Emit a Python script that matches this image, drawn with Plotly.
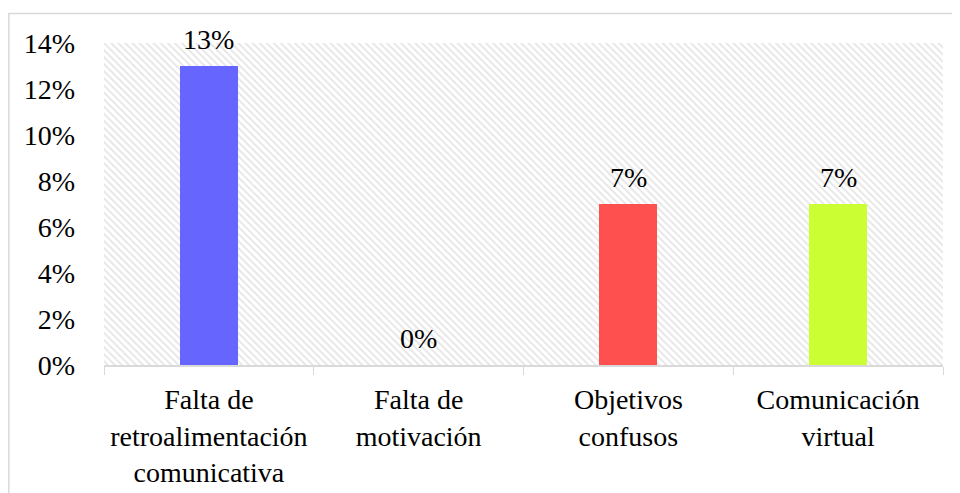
import plotly.graph_objects as go

categories = [
    "Falta de<br>retroalimentación<br>comunicativa",
    "Falta de<br>motivación",
    "Objetivos<br>confusos",
    "Comunicación<br>virtual",
]
values = [13, 0, 7, 7]
labels = ["13%", "0%", "7%", "7%"]
colors = ["#6666FF", "#9999FF", "#FF5050", "#CCFF33"]
y_max = 14
y_ticks = [0, 2, 4, 6, 8, 10, 12, 14]
y_tick_text = ["0%", "2%", "4%", "6%", "8%", "10%", "12%", "14%"]

FONT = "Liberation Serif"
FS = 28

# the page body adds an 8px margin; figure is sized/offset to compensate
W, H = 952, 485
L, T, R, B = 96, 35, 17, 128
pw, ph = W - L - R, H - T - B

fig = go.Figure()

# hatched plot background
fig.add_trace(go.Bar(
    x=[categories[0]], y=[y_max], width=[len(categories)], offset=-0.5,
    marker=dict(color="white", line=dict(width=0),
                pattern=dict(shape="\\", fgcolor="#cccccc", bgcolor="white",
                             size=5, solidity=0.35)),
    hoverinfo="skip", showlegend=False,
))

fig.add_trace(go.Bar(
    x=categories, y=values, width=0.276,
    marker=dict(color=colors, line=dict(width=0)),
    showlegend=False,
))

for c, v, t in zip(categories, values, labels):
    fig.add_annotation(x=c, y=v, text=t, showarrow=False, yanchor="bottom",
                       yshift=9, font=dict(family=FONT, size=FS, color="#000"))

fig.add_shape(type="rect", xref="paper", yref="paper",
              x0=(0.8 - L) / pw, x1=1.3, y0=-1.0, y1=(ph + T - 5.5) / ph,
              line=dict(color="#d9d9d9", width=1.5), fillcolor="rgba(0,0,0,0)",
              layer="below")

fig.update_layout(
    width=W, height=H,
    margin=dict(l=L, r=R, t=T, b=B, autoexpand=False),
    paper_bgcolor="white", plot_bgcolor="white",
    barmode="overlay", bargap=0,
    font=dict(family=FONT, size=FS, color="#000"),
    showlegend=False,
)
fig.update_xaxes(
    type="category", range=[-0.5, 3.5], showgrid=False,
    showline=True, linecolor="#d9d9d9", linewidth=1.5,
    ticks="outside", tickson="boundaries", ticklen=8, tickcolor="#d9d9d9",
    ticklabelstandoff=9,
    tickfont=dict(family=FONT, size=FS, color="#000"),
)
fig.update_yaxes(
    range=[0, y_max], tickmode="array", tickvals=y_ticks, ticktext=y_tick_text,
    showgrid=False, zeroline=False, showline=False, ticks="",
    ticklabelstandoff=28,
    tickfont=dict(family=FONT, size=FS, color="#000"),
)

fig.write_html("out.html")
